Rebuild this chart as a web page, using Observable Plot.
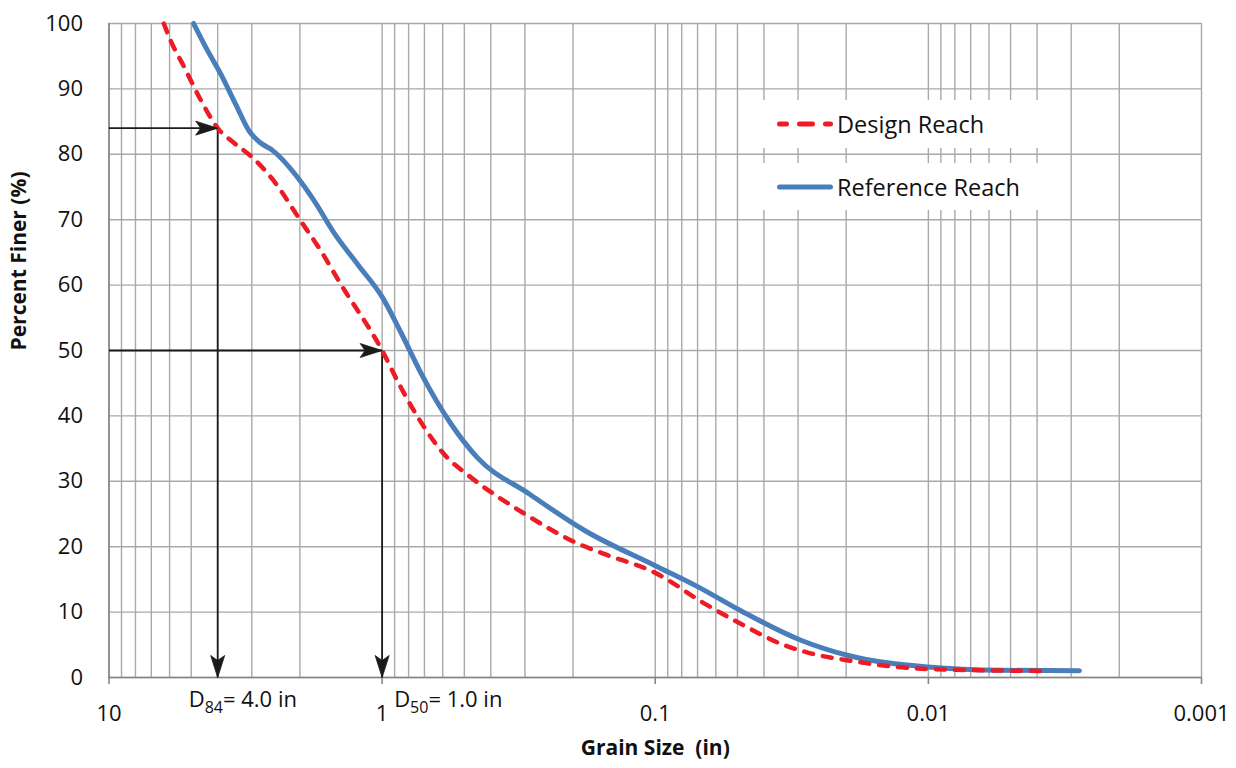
<!DOCTYPE html>
<html>
<head>
<meta charset="utf-8">
<script src="https://cdn.jsdelivr.net/npm/d3@7"></script>
<script src="https://cdn.jsdelivr.net/npm/@observablehq/plot@0.6"></script>
<style>
  html, body { margin: 0; padding: 0; background: #fff; }
  #wrap { position: relative; width: 1236px; height: 768px; font-family: "Open Sans", sans-serif; }
  .leg { position: absolute; left: 742px; width: 326px; background: #fff; display: flex; align-items: center;
         font-size: 23.5px; color: #111; box-sizing: border-box; padding-left: 35px; }
  .leg svg { display: block; margin-right: 4px; }
</style>
</head>
<body>
<div id="wrap"></div>
<script>
// ---- data ----
const designSize  = [6.3, 5.95, 5.3, 4.6, 4.0, 3.5, 3.0, 2.5, 2.0, 1.68, 1.42, 1.0, 0.87, 0.74, 0.58, 0.49, 0.30, 0.19, 0.154, 0.10, 0.066, 0.0476, 0.034, 0.027, 0.0196, 0.010, 0.0036];
const designFiner = [100, 97.4, 93.3, 88.2, 84, 81.8, 79.6, 76, 70, 65.3, 60.2, 50, 45, 39.8, 33.7, 31.1, 25, 20.4, 18.9, 16.0, 11.3, 8.0, 5.0, 3.7, 2.6, 1.3, 1.0];

const refSize  = [4.9, 4.4, 3.9, 3.45, 3.05, 2.8, 2.52, 2.0, 1.78, 1.5, 1.22, 1.0, 0.85, 0.72, 0.56, 0.45, 0.29, 0.18, 0.10, 0.07, 0.0486, 0.0293, 0.0198, 0.010, 0.0054, 0.0028];
const refFiner = [100, 96.2, 92.3, 87.8, 83.4, 81.8, 80.6, 76, 73, 68, 63, 58.2, 52.6, 46.5, 38.8, 33.7, 28.1, 22.4, 17.1, 13.9, 10.2, 5.7, 3.4, 1.6, 1.1, 1.05];

const seriesNames = ["Design Reach", "Reference Reach"];
const seriesColors = ["#ed1c24", "#4a7ebb"];

const yTicks = [0, 10, 20, 30, 40, 50, 60, 70, 80, 90, 100];
const xTicks = [10, 1, 0.1, 0.01, 0.001];
const xTickLabels = ["10", "1", "0.1", "0.01", "0.001"];

// D-values marked with arrows
const dSub   = ["84", "50"];
const dSize  = [4.0, 1.0];
const dFiner = [84, 50];
const dText  = ["= 4.0 in", "= 1.0 in"];
const dShift = [-29, 12];

// ---- derived tables ----
const design = designSize.map((s, i) => ({size: s, finer: designFiner[i]}));
const ref = refSize.map((s, i) => ({size: s, finer: refFiner[i]}));

// minor + major log gridlines (1..9 per decade)
const xGrid = [];
for (let e = -3; e <= 0; e++) for (let k = 1; k <= 9; k++) xGrid.push(+(k * Math.pow(10, e)).toPrecision(3));
xGrid.push(10);

const arrowLinks = [];
const arrowTips = [];
dSize.forEach((s, i) => {
  arrowLinks.push({x1: xTicks[0], y1: dFiner[i], x2: s, y2: dFiner[i]});
  arrowLinks.push({x1: s, y1: dFiner[i], x2: s, y2: yTicks[0]});
  arrowTips.push({x: s, y: dFiner[i], rot: -90});
  arrowTips.push({x: s, y: yTicks[0], rot: 0});
});
const dLabels = dSize.map((s, i) => ({x: s, y: 0, sub: dSub[i], rest: dText[i], shift: dShift[i]}));

// stealth arrowhead pointing down, tip at origin
const stealth = {
  draw(ctx) {
    ctx.moveTo(0, 0);
    ctx.lineTo(-7, -22);
    ctx.lineTo(0, -17);
    ctx.lineTo(7, -22);
    ctx.closePath();
  }
};

const gridColor = "#a9a9a9";
const axisColor = "#868686";

const chart = Plot.plot({
  width: 1236,
  height: 768,
  marginLeft: 108.5,
  marginRight: 35,
  marginTop: 23,
  marginBottom: 91,
  style: {fontFamily: "'Open Sans', sans-serif", fontSize: "22px", color: "#111", background: "transparent", overflow: "visible"},
  x: {type: "log", domain: [10, 0.001]},
  y: {domain: [0, 100]},
  marks: [
    Plot.ruleX(xGrid, {stroke: gridColor, strokeWidth: 1.4}),
    Plot.ruleY(yTicks, {stroke: gridColor, strokeWidth: 1.4}),
    Plot.ruleX([10], {stroke: axisColor, strokeWidth: 1.6}),
    Plot.ruleY([0], {stroke: axisColor, strokeWidth: 1.6}),
    Plot.axisX({ticks: xTicks, tickFormat: d => xTickLabels[xTicks.indexOf(d)], tickSize: 7, tickPadding: 21,
                stroke: axisColor, strokeWidth: 1.6, label: null, fontSize: 22}),
    Plot.axisY({ticks: yTicks, tickSize: 0, tickPadding: 26, label: null, fontSize: 22}),
    Plot.link(arrowLinks, {x1: "x1", y1: "y1", x2: "x2", y2: "y2", stroke: "#1a1a1a", strokeWidth: 1.8}),
    Plot.line(ref, {x: "size", y: "finer", stroke: seriesColors[1], strokeWidth: 5, curve: "monotone-x"}),
    Plot.line(design, {x: "size", y: "finer", stroke: seriesColors[0], strokeWidth: 4.5, curve: "monotone-x",
                       strokeDasharray: "9,10", strokeLinecap: "round"}),
    Plot.dot(arrowTips, {x: "x", y: "y", symbol: stealth, r: 5, fill: "#1a1a1a", fillOpacity: 1, stroke: "#1a1a1a", strokeWidth: 0.8, rotate: "rot"}),
    Plot.text(dLabels, {x: "x", y: "y", text: d => "D" + d.sub + d.rest, dy: 22, textAnchor: "start",
                        fontSize: 22, fill: "#111", className: "dlabel"}),
    Plot.text(["Percent Finer (%)"], {frameAnchor: "left", rotate: -90, dx: -90, fontWeight: "bold", fontSize: 21, fill: "#111"}),
    Plot.text(["Grain Size  (in)"], {frameAnchor: "bottom", dy: 77, fontWeight: "bold", fontSize: 21, fill: "#111"})
  ]
});

// subscripts and per-label horizontal shift via tspans
const svg = d3.select(chart);
svg.selectAll("g.dlabel text").each(function(_, i) {
  const d = dLabels[i];
  const t = d3.select(this);
  t.text(null);
  const tr = t.attr("transform");
  t.attr("transform", (tr ? tr + " " : "") + `translate(${d.shift},0)`);
  t.append("tspan").text("D");
  t.append("tspan").attr("dy", 6).attr("font-size", 16).text(d.sub);
  t.append("tspan").attr("dy", -6).text(d.rest);
});
svg.selectAll("text").style("white-space", "pre");

const wrap = document.getElementById("wrap");
wrap.appendChild(chart);

// legend (inside plot area, white boxes)
const legTops = [100, 163];
const legHeights = [48, 47];
seriesNames.forEach((name, i) => {
  const div = document.createElement("div");
  div.className = "leg";
  div.style.top = legTops[i] + "px";
  div.style.height = legHeights[i] + "px";
  const dash = i === 0 ? 'stroke-dasharray="13,13" stroke-dashoffset="6"' : "";
  div.innerHTML = `<svg width="56" height="10"><line x1="2.5" y1="5" x2="53.5" y2="5" stroke="${seriesColors[i]}" stroke-width="5" stroke-linecap="round" ${dash}/></svg><span>${name}</span>`;
  wrap.appendChild(div);
});
</script>
</body>
</html>
